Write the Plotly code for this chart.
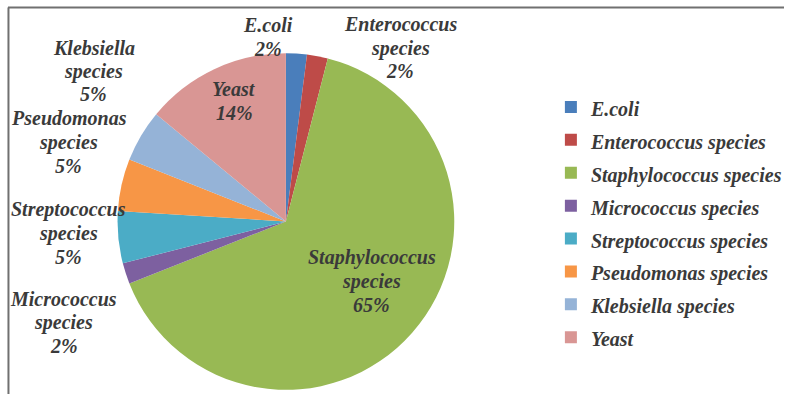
import plotly.graph_objects as go

# Isolate distribution (percent of isolates)
species = [
    "E.coli",
    "Enterococcus species",
    "Staphylococcus species",
    "Micrococcus species",
    "Streptococcus species",
    "Pseudomonas species",
    "Klebsiella species",
    "Yeast",
]
percent = [2, 2, 65, 2, 5, 5, 5, 14]
colors = ["#4a7ebb", "#be4b48", "#98b954", "#7d60a0",
          "#4bacc6", "#f79646", "#95b3d7", "#d99694"]

W, H = 787, 394

# Data-label anchor points (pixel centres of each text block)
label_pos = [
    (269, 37),   # E.coli
    (402, 48),   # Enterococcus
    (373, 281),  # Staphylococcus
    (64, 322),   # Micrococcus
    (69, 233),   # Streptococcus
    (69, 142),   # Pseudomonas
    (94, 71),    # Klebsiella
    (235, 101),  # Yeast
]
LINE_GAP = 23.5

label_font = dict(family="Liberation Serif", size=20, color="#3a3a3a",
                  style="italic", weight="bold")

legend_names = [f'<span style="font-size:20px">{s}</span>' for s in species]

fig = go.Figure(
    go.Pie(
        labels=legend_names,
        values=percent,
        sort=False,
        direction="clockwise",
        rotation=0,
        marker=dict(colors=colors, line=dict(width=0)),
        textinfo="none",
        hoverinfo="percent",
        domain=dict(x=[118 / W, 456 / W], y=[1 - 390 / H, 1 - 53 / H]),
    )
)

total = sum(percent)
annotations = []
for name, v, (px, py) in zip(species, percent, label_pos):
    lines = name.split(" ") + [f"{round(v / total * 100)}%"]
    n = len(lines)
    for i, line in enumerate(lines):
        ly = py + (i - (n - 1) / 2) * LINE_GAP
        annotations.append(dict(
            x=px / W, y=1 - ly / H, xref="paper", yref="paper",
            text=line, showarrow=False, xanchor="center", yanchor="middle",
            align="center", font=label_font,
        ))

# Chart frame (top and left edges)
shapes = [
    dict(type="line", xref="paper", yref="paper", x0=8 / W, x1=1,
         y0=1 - 7.5 / H, y1=1 - 7.5 / H, line=dict(color="#707070", width=2)),
    dict(type="line", xref="paper", yref="paper", x0=8.5 / W, x1=8.5 / W,
         y0=0, y1=1 - 7.5 / H, line=dict(color="#707070", width=2)),
]

fig.update_layout(
    width=W, height=H,
    margin=dict(l=0, r=0, t=0, b=0),
    paper_bgcolor="white",
    plot_bgcolor="white",
    annotations=annotations,
    shapes=shapes,
    showlegend=True,
    legend=dict(
        x=553 / W, xanchor="left",
        y=1 - 222.5 / H, yanchor="middle",
        font=dict(family="Liberation Serif", size=23, color="#3a3a3a",
                  style="italic", weight="bold"),
        bgcolor="rgba(0,0,0,0)",
    ),
)

fig.write_html("out.html")
